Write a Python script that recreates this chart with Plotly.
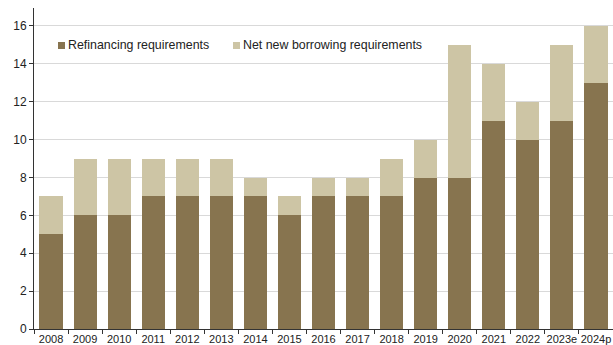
import plotly.graph_objects as go

years = ["2008", "2009", "2010", "2011", "2012", "2013", "2014", "2015", "2016",
         "2017", "2018", "2019", "2020", "2021", "2022", "2023e", "2024p"]
refinancing = [5, 6, 6, 7, 7, 7, 7, 6, 7, 7, 7, 8, 8, 11, 10, 11, 13]
net_new = [2, 3, 3, 2, 2, 2, 1, 1, 1, 1, 2, 2, 7, 3, 2, 4, 3]

DARK = "#87744F"
LIGHT = "#CDC5A5"
FONT = "Liberation Sans, Arial, sans-serif"

W, H = 613, 345
ML, MR, MT, MB = 34, 0, 8, 16
PW, PH = W - ML - MR, H - MT - MB

fig = go.Figure()
fig.add_bar(x=years, y=refinancing, name="Refinancing requirements",
            marker=dict(color=DARK, line=dict(width=0)), showlegend=False)
fig.add_bar(x=years, y=net_new, name="Net new borrowing requirements",
            marker=dict(color=LIGHT, line=dict(width=0)), showlegend=False)


def px_x(x):
    return (x - ML) / PW


def px_y(y):
    return (H - MB - y) / PH


# compact legend: small square swatch followed by the series name
legend_items = [(58, DARK, "Refinancing requirements"),
                (233, LIGHT, "Net new borrowing requirements")]
shapes, annotations = [], []
for x0, color, label in legend_items:
    shapes.append(dict(type="rect", xref="paper", yref="paper",
                       x0=px_x(x0), x1=px_x(x0 + 7), y0=px_y(49), y1=px_y(42),
                       fillcolor=color, line=dict(width=0)))
    annotations.append(dict(xref="paper", yref="paper", x=px_x(x0 + 8), y=px_y(45.5),
                            xanchor="left", yanchor="middle", showarrow=False,
                            text=label, font=dict(size=12.4, color="#222222")))

fig.update_layout(
    barmode="stack",
    bargap=0.32,
    width=W, height=H,
    margin=dict(l=ML, r=MR, t=MT, b=MB),
    paper_bgcolor="white", plot_bgcolor="white",
    font=dict(family=FONT, size=11, color="#222222"),
    showlegend=False,
    shapes=shapes,
    annotations=annotations,
    xaxis=dict(showgrid=False, showline=True, linecolor="#333333", linewidth=1,
               ticks="outside", tickson="boundaries", ticklen=4, tickcolor="#333333",
               tickfont=dict(size=11), tickangle=0, automargin=False),
    yaxis=dict(range=[0, 16.95], dtick=2, showgrid=True, gridcolor="#D9D9D9",
               showline=True, linecolor="#333333", linewidth=1,
               ticks="outside", ticklen=4, tickcolor="#333333",
               tickfont=dict(size=12), zeroline=False, automargin=False),
)

fig.write_html("out.html")
